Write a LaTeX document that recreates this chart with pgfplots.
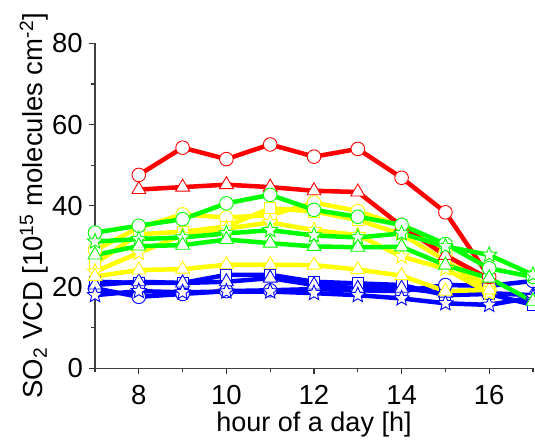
\documentclass[border=0pt]{standalone}
\usepackage{pgfplots}
\pgfplotsset{compat=1.18}
\usepackage{fontspec}
\setmainfont{Liberation Sans}
\definecolor{cR}{RGB}{255,0,0}
\definecolor{cG}{RGB}{0,255,0}
\definecolor{cY}{RGB}{255,255,0}
\definecolor{cB}{RGB}{0,0,255}
\pgfdeclareplotmark{fstar}{%
  \pgfpathmoveto{\pgfpointpolar{90}{\pgfplotmarksize}}%
  \pgfpathlineto{\pgfpointpolar{126}{0.45\pgfplotmarksize}}%
  \pgfpathlineto{\pgfpointpolar{162}{\pgfplotmarksize}}%
  \pgfpathlineto{\pgfpointpolar{198}{0.45\pgfplotmarksize}}%
  \pgfpathlineto{\pgfpointpolar{234}{\pgfplotmarksize}}%
  \pgfpathlineto{\pgfpointpolar{270}{0.45\pgfplotmarksize}}%
  \pgfpathlineto{\pgfpointpolar{306}{\pgfplotmarksize}}%
  \pgfpathlineto{\pgfpointpolar{342}{0.45\pgfplotmarksize}}%
  \pgfpathlineto{\pgfpointpolar{18}{\pgfplotmarksize}}%
  \pgfpathlineto{\pgfpointpolar{54}{0.45\pgfplotmarksize}}%
  \pgfpathclose
  \pgfusepathqfillstroke
}
\pgfplotsset{
  ser/.style={line width=4.5pt, color=#1, mark options={solid, fill=white, draw=#1, line width=0.9pt}},
  mc/.style={mark=*, mark size=6.8pt},
  mt/.style={mark=triangle*, mark size=8pt},
  ms/.style={mark=square*, mark size=5.5pt},
  mst/.style={mark=fstar, mark size=8pt},
}
\begin{document}
\begin{tikzpicture}
\begin{axis}[
  scale only axis, width=438pt, height=325pt,
  xmin=7, xmax=17, ymin=0, ymax=80,
  axis x line*=bottom, axis y line*=left,
  xtick pos=bottom, ytick pos=left,
  tick align=outside,
  major tick length=6pt, minor tick length=3.5pt,
  xtick={8,10,...,16}, minor xtick={7,9,...,17},
  ytick={0,20,...,80}, minor ytick={10,30,50,70},
  tick style={line width=1.2pt, black!80},
  axis line style={line width=1.5pt, black!75},
  /pgf/number format/assume math mode=true,
  ticklabel style={font=\fontsize{27.5}{30}\selectfont, inner sep=0pt},
  xticklabel shift=11pt, yticklabel shift=6pt,
  xlabel={hour of a day [h]},
  ylabel={SO\textsubscript{2} VCD [10\textsuperscript{15} molecules cm\textsuperscript{-2}]},
  xlabel style={font=\fontsize{27}{32}\selectfont, inner sep=0pt, at={(axis description cs:0.5,0)}, anchor=north, yshift=-43.5pt},
  ylabel style={font=\fontsize{27.5}{32}\selectfont, inner sep=0pt, at={([xshift=-47pt]axis description cs:0,0.5)}, anchor=south},
]
\coordinate (ll) at (rel axis cs:0,0);
\coordinate (ur) at (rel axis cs:1,1);
% blue
\addplot[ser=cB, mc] coordinates {(7,19.7)(8,17.6)(9,18.3)(10,19.0)(11,19.2)(12,19.5)(13,19.2)(14,19.0)(15,20.5)(16,20.3)(17,21.5)};
\addplot[ser=cB, ms] coordinates {(7,21.3)(8,21.0)(9,21.0)(10,23.0)(11,23.0)(12,21.3)(13,20.9)(14,20.5)(15,18.0)(16,18.3)(17,15.6)};
\addplot[ser=cB, mt] coordinates {(7,20.5)(8,21.3)(9,21.0)(10,21.3)(11,22.2)(12,20.5)(13,19.7)(14,19.7)(15,18.5)(16,18.5)(17,18.0)};
\addplot[ser=cB, mst] coordinates {(7,18.0)(8,19.0)(9,18.7)(10,18.9)(11,18.9)(12,18.5)(13,18.0)(14,17.2)(15,16.0)(16,15.6)(17,17.5)};
% yellow
\addplot[ser=cY, mc] coordinates {(7,29.1)(8,34.6)(9,37.9)(10,37.1)(11,37.7)(12,40.8)(13,38.7)(14,35.0)(15,28.4)(16,19.5)};
\addplot[ser=cY, ms] coordinates {(7,25.8)(8,33.0)(9,33.6)(10,34.9)(11,39.4)(12,38.6)(13,36.5)(14,33.0)(15,26.5)(16,18.8)};
\addplot[ser=cY, mst] coordinates {(7,23.8)(8,28.4)(9,32.8)(10,34.4)(11,35.9)(12,34.0)(13,32.8)(14,27.5)(15,24.5)(16,18.5)};
\addplot[ser=cY, mt] coordinates {(7,22.6)(8,24.2)(9,24.4)(10,25.5)(11,25.5)(12,25.4)(13,24.3)(14,22.8)(15,19.0)(16,19.3)};
% red
\addplot[ser=cR, mc] coordinates {(8,47.6)(9,54.3)(10,51.5)(11,55.1)(12,52.1)(13,54.0)(14,46.9)(15,38.4)(16,22.5)};
\addplot[ser=cR, mt] coordinates {(8,44.0)(9,44.6)(10,45.2)(11,44.6)(12,43.7)(13,43.4)(14,35.0)(15,27.8)(16,22.0)};
% green
\addplot[ser=cG, mc] coordinates {(7,33.4)(8,35.1)(9,36.7)(10,40.6)(11,42.7)(12,39.0)(13,37.3)(14,35.3)(15,30.6)(16,24.6)(17,22.5)};
\addplot[ser=cG, mst] coordinates {(7,31.2)(8,31.8)(9,32.2)(10,33.2)(11,34.0)(12,32.7)(13,32.2)(14,33.2)(15,30.0)(16,27.9)(17,23.0)};
\addplot[ser=cG, mt] coordinates {(7,27.9)(8,30.1)(9,30.3)(10,31.7)(11,30.8)(12,30.0)(13,29.8)(14,29.9)(15,25.4)(16,22.2)(17,16.5)};
\end{axis}
\pgfresetboundingbox
\path ([shift={(-95pt,-70.7pt)}]ll) rectangle ([shift={(2pt,43.3pt)}]ur);
\end{tikzpicture}
\end{document}
